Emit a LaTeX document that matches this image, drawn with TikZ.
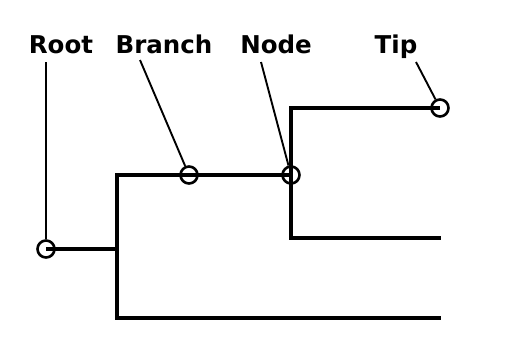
\documentclass[tikz,border=0pt]{standalone}
\usepackage{fontspec}
\setmainfont{DejaVu Sans}
\begin{document}
\begin{tikzpicture}[x=1pt,y=-1pt,
  lbl/.style={font=\bfseries\fontsize{24.5}{28}\selectfont, anchor=base, inner sep=0pt},
  dot/.style={circle, draw, line width=2.6pt, minimum size=17pt, inner sep=0pt, fill=none},
  tree/.style={line width=4.4pt, line join=miter},
  lead/.style={line width=1.9pt}]
\useasboundingbox (0,0) rectangle (508,348);
% labels
\node[lbl] (lroot) at (61,53) {Root};
\node[lbl] (lbranch) at (164,53) {Branch};
\node[lbl] (lnode) at (276,53) {Node};
\node[lbl] (ltip) at (396,53) {Tip};
% circles
\node[dot] (root) at (46,249) {};
\node[dot] (branch) at (189,175) {};
\node[dot] (nd) at (291,175) {};
\node[dot] (tip) at (440,108) {};
% coordinates
\coordinate (a) at (117,249);
\coordinate (at) at (117,175);
\coordinate (ab) at (117,318);
\coordinate (bend) at (441,318);
\coordinate (nt) at (291,108);
\coordinate (nb) at (291,238);
\coordinate (nbe) at (441,238);
% tree
\draw[tree] (root.center) -- (a);
\draw[tree] (branch.center) -- (at) -- (ab) -- (bend);
\draw[tree] (branch.center) -- (nd.center);
\draw[tree] (tip.center) -- (nt) -- (nb) -- (nbe);
% leaders
\coordinate (lr) at (46,62);
\coordinate (lb) at (140,60);
\coordinate (ln) at (261,62);
\coordinate (lt) at (416,62);
\draw[lead] (lr) -- (root.north);
\draw[lead] (lb) -- (branch);
\draw[lead] (ln) -- (nd);
\draw[lead] (lt) -- (tip);
\end{tikzpicture}
\end{document}
